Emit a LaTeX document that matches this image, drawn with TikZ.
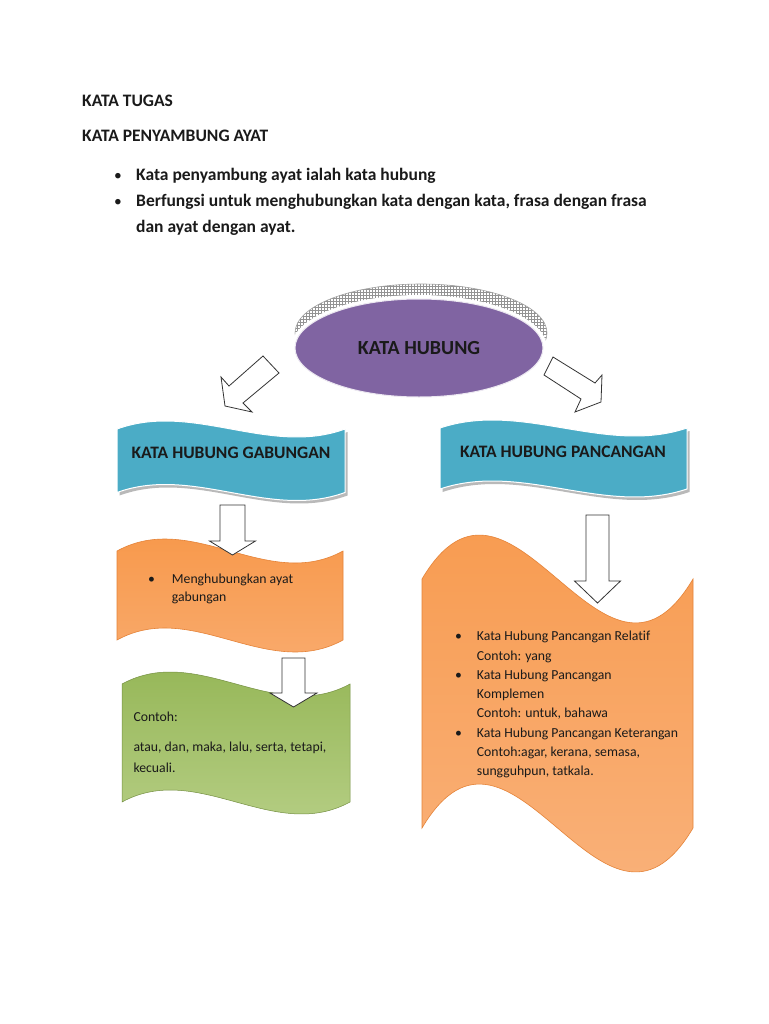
\documentclass[tikz,border=0pt]{standalone}
\usepackage{fontspec}
\setmainfont{Carlito}[Ligatures=NoCommon]
\usetikzlibrary{patterns,shapes.geometric}
\definecolor{kpurple}{HTML}{8064A2}
\definecolor{kblue}{HTML}{4BACC6}
\definecolor{korange}{HTML}{F79646}
\definecolor{korangelt}{HTML}{FAB683}
\definecolor{korangedk}{HTML}{D9772E}
\definecolor{kgreen}{HTML}{92B452}
\definecolor{kgreenlt}{HTML}{B8D088}
\definecolor{ktext}{HTML}{1A1A1A}
% wave shape: left, right, top mid, bottom mid, amplitude, style
\newcommand\wavepath[6]{\path[#6] (#1,#3) .. controls ({#1+(#2-#1)/3},{#3-3.46*#5}) and ({#1+2*(#2-#1)/3},{#3+3.46*#5}) .. (#2,#3) -- (#2,#4) .. controls ({#1+2*(#2-#1)/3},{#4+3.46*#5}) and ({#1+(#2-#1)/3},{#4-3.46*#5}) .. (#1,#4) -- cycle;}
% block arrow down: centre x, top, shaft half width, head half width, head base y, tip y
\newcommand\blkdown[6]{\draw[blockarrow] ({#1-#3},#2) -- ({#1+#3},#2) -- ({#1+#3},#5) -- ({#1+#4},#5) -- (#1,#6) -- ({#1-#4},#5) -- ({#1-#3},#5) -- cycle;}
\tikzset{
  blockarrow/.style={draw=black!80, fill=white, line width=0.8pt, line join=miter},
  body/.style={font=\bfseries\fontsize{17.5}{21}\selectfont, inner sep=0pt, anchor=base west, text=ktext},
  bodybullet/.style={font=\fontsize{15.5}{15.5}\selectfont, inner sep=0pt, anchor=base, text=ktext},
  small/.style={font=\fontsize{13.75}{16}\selectfont, inner sep=0pt, anchor=base west, text=ktext},
  banner/.style={font=\bfseries\fontsize{17.5}{21}\selectfont, inner sep=0pt, text=ktext},
}
\begin{document}
\begin{tikzpicture}[x=1pt,y=-1pt]
\useasboundingbox[fill=white] (0,0) rectangle (768,1024);

% header text
\node[body] (t1) at (82,107) {KATA TUGAS};
\node[body] (t2) at (82,142) {KATA PENYAMBUNG AYAT};
\node[bodybullet] (b1) at (118,180.5) {\textbullet};
\node[body] (l1) at (136,181) {Kata penyambung ayat ialah kata hubung};
\node[bodybullet] (b2) at (118,206.5) {\textbullet};
\node[body] (l2) at (136,207) {Berfungsi untuk menghubungkan kata dengan kata, frasa dengan frasa};
\node[body] (l3) at (136,233) {dan ayat dengan ayat.};

% central ellipse
\path[pattern=grid, pattern color=gray!85] (421,333) ellipse [x radius=126, y radius=49];
\draw[gray!75, line width=0.6pt] (421,333) ellipse [x radius=126, y radius=49];
\fill[white] (419,348) ellipse [x radius=128, y radius=53];
\node[ellipse, fill=kpurple, draw=white!85!kpurple, line width=1pt, minimum width=248pt, minimum height=98pt, inner sep=0pt,
      font=\bfseries\fontsize{20}{24}\selectfont, text=ktext] (hub) at (419,348) {KATA HUBUNG};

% diagonal block arrows
\draw[blockarrow] (263,356) -- (279,373) -- (243,403) -- (252,412) -- (225,406) -- (221,377) -- (229,386) -- cycle;
\draw[blockarrow] (553,357) -- (595,383) -- (602,375) -- (601,402) -- (575,412) -- (581,399) -- (544,375) -- cycle;

% blue banners
\wavepath{119.5}{347.5}{432}{495.5}{8}{fill=gray!55}
\wavepath{117}{345}{429}{492.5}{8}{fill=kblue, draw=white, line width=1pt}
\node[banner] (gab) at (231,453) {KATA HUBUNG GABUNGAN};
\wavepath{442.5}{689.5}{431}{492}{8}{fill=gray!55}
\wavepath{440}{687}{428}{489}{8}{fill=kblue, draw=white, line width=1pt}
\node[banner] (pan) at (563,452) {KATA HUBUNG PANCANGAN};

% left orange shape
\wavepath{117}{343}{551}{640}{12}{top color=korange, bottom color=korangelt!70!korange, draw=korangedk!60!korange, line width=0.6pt}
\node[small] (ob) at (148,583) {\textbullet};
\node[small] (o1) at (171.7,583) {Menghubungkan ayat};
\node[small] (o2) at (171.7,601) {gabungan};

% green shape
\wavepath{122}{350}{684}{802}{12}{top color=kgreen, bottom color=kgreenlt, draw=kgreen!80!black, line width=0.5pt}
\node[small] (g1) at (133.3,721) {Contoh:};
\node[small] (g2) at (133.3,751) {atau, dan, maka, lalu, serta, tetapi,};
\node[small] (g3) at (133.3,772) {kecuali.};

% big right orange shape
\wavepath{422}{693}{579}{828}{44}{top color=korange, bottom color=korangelt, draw=korangedk!60!korange, line width=0.6pt}
\node[small] (rb1) at (455,640.7) {\textbullet};
\node[small] (r1) at (476.7,640.7) {Kata Hubung Pancangan Relatif};
\node[small] (r2) at (476.7,660) {Contoh: yang};
\node[small] (rb2) at (455,679.3) {\textbullet};
\node[small] (r3) at (476.7,679.3) {Kata Hubung Pancangan};
\node[small] (r4) at (476.7,698.6) {Komplemen};
\node[small] (r5) at (476.7,717.9) {Contoh: untuk, bahawa};
\node[small] (rb3) at (455,737.2) {\textbullet};
\node[small] (r6) at (476.7,737.2) {Kata Hubung Pancangan Keterangan};
\node[small] (r7) at (476.7,756.5) {Contoh:agar, kerana, semasa,};
\node[small] (r8) at (476.7,775.8) {sungguhpun, tatkala.};

% downward block arrows
\blkdown{232.5}{505}{12.5}{23}{541}{555}
\blkdown{293.5}{658}{11.5}{23.5}{693}{707}
\blkdown{597.5}{515}{11.5}{23}{581}{603}
\end{tikzpicture}
\end{document}
